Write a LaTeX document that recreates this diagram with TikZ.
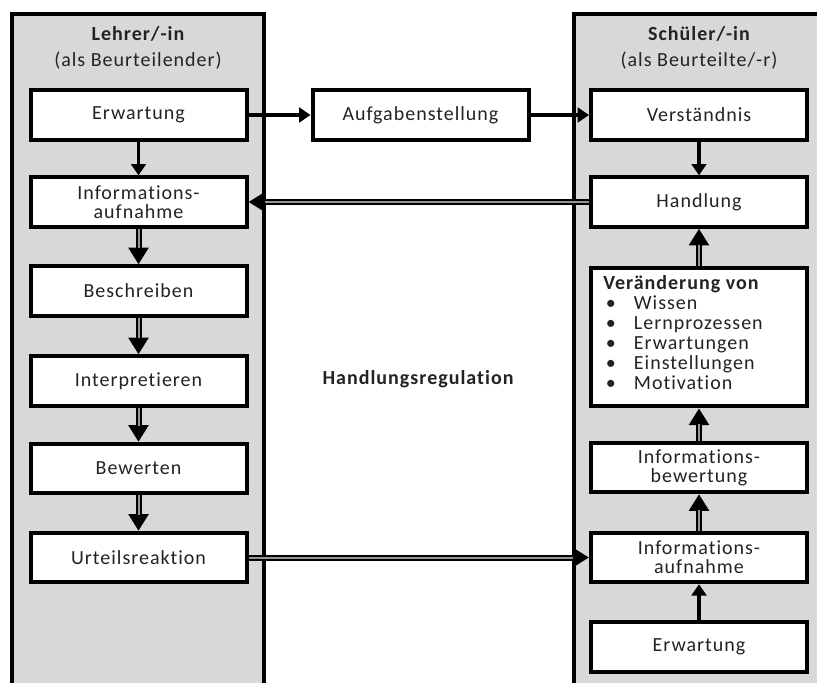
\documentclass[tikz,border=0pt]{standalone}
\usepackage{fontspec}
\setmainfont[Ligatures=NoCommon, LetterSpace=5]{Carlito}
\usetikzlibrary{arrows.meta}
\definecolor{panelgray}{RGB}{216,216,216}
\definecolor{innergray}{RGB}{150,150,150}
\definecolor{txt}{RGB}{35,35,35}
\tikzset{
  panel/.style={draw=black, line width=3pt, fill=panelgray},
  box/.style={draw=black, line width=3pt, fill=white, align=center, inner sep=0pt,
    minimum width=162pt, minimum height=37pt, text=txt, font=\fontsize{15}{14.5}\selectfont},
  title/.style={text=txt, inner sep=0pt, font=\fontsize{15}{15}\selectfont},
  sarrow/.style={line width=2.5pt, -{Triangle[length=8.5pt,width=11pt]}},
  douter/.style={line width=4.5pt, -{Triangle[length=12.5pt,width=14.5pt]}},
  dinner/.style={line width=1.5pt, draw=innergray, shorten >=12pt}
}
\newcommand{\dblarrow}[2]{%
  \draw[douter] (#1) -- (#2);
  \draw[dinner] (#1) -- (#2);}
\newcommand{\itm}{\makebox[23pt][l]{\hspace{2pt}\textbullet}}
\begin{document}
\begin{tikzpicture}[x=0.75pt,y=-0.75pt]
\fill[white] (0,0) rectangle (817,682);
\clip (0,0) rectangle (817,682);
% panels
\draw[panel] (12,14) rectangle (264,700);
\draw[panel] (574,14) rectangle (840,700);
% titles
\node[title, font=\fontsize{15}{15}\selectfont\bfseries] (lt1) at (138,34) {Lehrer/-in};
\node[title] (lt2) at (138,61) {(als Beurteilender)};
\node[title, font=\fontsize{15}{15}\selectfont\bfseries] (rt1) at (699,34) {Schüler/-in};
\node[title] (rt2) at (699,61) {(als Beurteilte/-r)};
% left boxes
\node[box] (lerw) at (138.5,115) {Erwartung};
\node[box] (linf) at (138.5,202) {Informations-\\aufnahme};
\node[box] (lbes) at (138.5,291) {Beschreiben};
\node[box] (lint) at (138.5,381) {Interpretieren};
\node[box] (lbew) at (138.5,468.5) {Bewerten};
\node[box] (lurt) at (138.5,557.5) {Urteilsreaktion};
% middle
\node[box] (auf) at (420.5,115) {Aufgabenstellung};
\node[title, font=\fontsize{15}{15}\selectfont\bfseries] (hr) at (418,379) {Handlungsregulation};
% right boxes
\node[box] (rver) at (699,115) {Verständnis};
\node[box] (rhan) at (699,202) {Handlung};
\node[box, minimum height=104pt] (rvae) at (699,337) {};
\node[anchor=north west, inner sep=0pt, align=left, text=txt,
  font=\fontsize{15}{15}\selectfont] (rvaetxt) at (603,275)
  {\textbf{Veränderung von}\\ \itm Wissen\\ \itm Lernprozessen\\ \itm Erwartungen\\ \itm Einstellungen\\ \itm Motivation};
\node[box] (rbew) at (699,467.5) {Informations-\\bewertung};
\node[box] (rinf) at (699,557.5) {Informations-\\aufnahme};
\node[box] (rerw) at (699,647) {Erwartung};
% single arrows
\draw[sarrow] (lerw.east) -- (auf.west);
\draw[sarrow] (auf.east) -- (rver.west);
\draw[sarrow] (lerw.south) -- (linf.north);
\draw[sarrow] (rver.south) -- (rhan.north);
\draw[sarrow] (rerw.north) -- (rinf.south);
% double arrows
\dblarrow{linf.south}{lbes.north}
\dblarrow{lbes.south}{lint.north}
\dblarrow{lint.south}{lbew.north}
\dblarrow{lbew.south}{lurt.north}
\dblarrow{rhan.west}{linf.east}
\dblarrow{lurt.east}{rinf.west}
\dblarrow{rinf.north}{rbew.south}
\dblarrow{rbew.north}{rvae.south}
\dblarrow{rvae.north}{rhan.south}
\end{tikzpicture}
\end{document}
